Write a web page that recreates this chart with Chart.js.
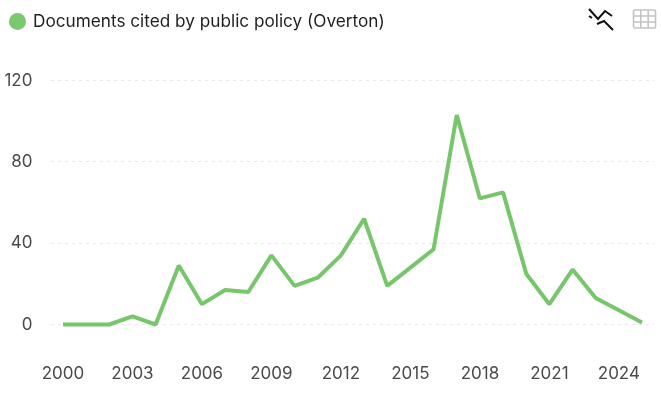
<!DOCTYPE html>
<html>
<head>
<meta charset="utf-8">
<script src="https://cdn.jsdelivr.net/npm/chart.js@4"></script>
<style>
    html, body { margin: 0; padding: 0; background: #fff; }
    #wrap { position: relative; width: 661px; height: 402px; overflow: hidden; font-family: Inter, sans-serif; }
    #legend { position: absolute; left: 9px; top: 11px; display: flex; align-items: center; color: #1f1f1f; font-size: 17.2px; line-height: 20px; white-space: nowrap; }
    #legend i { display: block; width: 17px; height: 17px; border-radius: 50%; background: #7ac86f; margin-right: 7px; }
    .icon { position: absolute; top: 7px; }
    canvas { position: absolute; left: 0; top: 0; }
</style>
</head>
<body>
<div id="wrap">
    <canvas id="policyChart" width="661" height="402"></canvas>
    <div id="legend"><i></i><span>Documents cited by public policy (Overton)</span></div>
    <svg class="icon" style="left:586px" width="28" height="26" viewBox="0 0 28 26" fill="none" stroke="#111" stroke-width="2">
        <path d="M3 2 L12 12 L19 4 L26 9"/>
        <path d="M3 9 L6 11"/>
        <path d="M11 17 L18 14 L27 23"/>
    </svg>
    <svg class="icon" style="left:632px" width="26" height="24" viewBox="0 0 26 24" fill="none" stroke="#c4c4c4" stroke-width="1.6">
        <rect x="1.5" y="3" width="22" height="18" rx="1.5"/>
        <path d="M1.5 9 H23.5 M1.5 15 H23.5 M8.8 3 V21 M16.2 3 V21"/>
    </svg>
</div>
<script>
const years = ['2000', '2001', '2002', '2003', '2004', '2005', '2006', '2007', '2008', '2009', '2010', '2011', '2012',
    '2013', '2014', '2015', '2016', '2017', '2018', '2019', '2020', '2021', '2022', '2023', '2024', '2025'];
const documentsCited = [0, 0, 0, 4, 0, 29, 10, 17, 16, 34, 19, 23, 34, 52, 19, 28, 37, 103, 62, 65, 25, 10, 27, 13, 7, 1];
const yTicks = [0, 40, 80, 120];

const ctx = document.getElementById('policyChart').getContext('2d');

new Chart(ctx, {
    type: 'line',
    data: {
        labels: years,
        datasets: [{
            label: 'Documents cited by public policy (Overton)',
            data: documentsCited,
            borderColor: '#77c66c',
            borderWidth: 4,
            borderJoinStyle: 'bevel',
            pointRadius: 0,
            tension: 0,
            clip: false
        }]
    },
    options: {
        responsive: false,
        animation: false,
        layout: { padding: { left: 0, right: 7.4, top: 80.5, bottom: 0 } },
        plugins: { legend: { display: false }, tooltip: { enabled: false } },
        scales: {
            x: {
                offset: true,
                grid: { display: false },
                border: { display: false },
                ticks: {
                    autoSkip: false,
                    maxRotation: 0,
                    padding: 31,
                    color: '#4a4a4a',
                    font: { family: 'Inter', size: 17 },
                    callback: function(value, index) {
                        return index % 3 === 0 ? this.getLabelForValue(value) : '';
                    }
                },
                afterFit: function(scale) {
                    scale.height = 77.5;
                    scale.paddingLeft = 0;
                    scale.paddingRight = 0;
                }
            },
            y: {
                min: 0,
                max: 120,
                afterBuildTicks: function(scale) { scale.ticks = yTicks.map(v => ({ value: v })); },
                grid: { color: '#e8e8e8', lineWidth: 1, drawTicks: false },
                border: { display: false, dash: [3, 4] },
                ticks: {
                    padding: 19,
                    color: '#4a4a4a',
                    font: { family: 'Inter', size: 17 }
                },
                afterFit: function(scale) { scale.width = 51.4; }
            }
        }
    }
});
</script>
</body>
</html>
